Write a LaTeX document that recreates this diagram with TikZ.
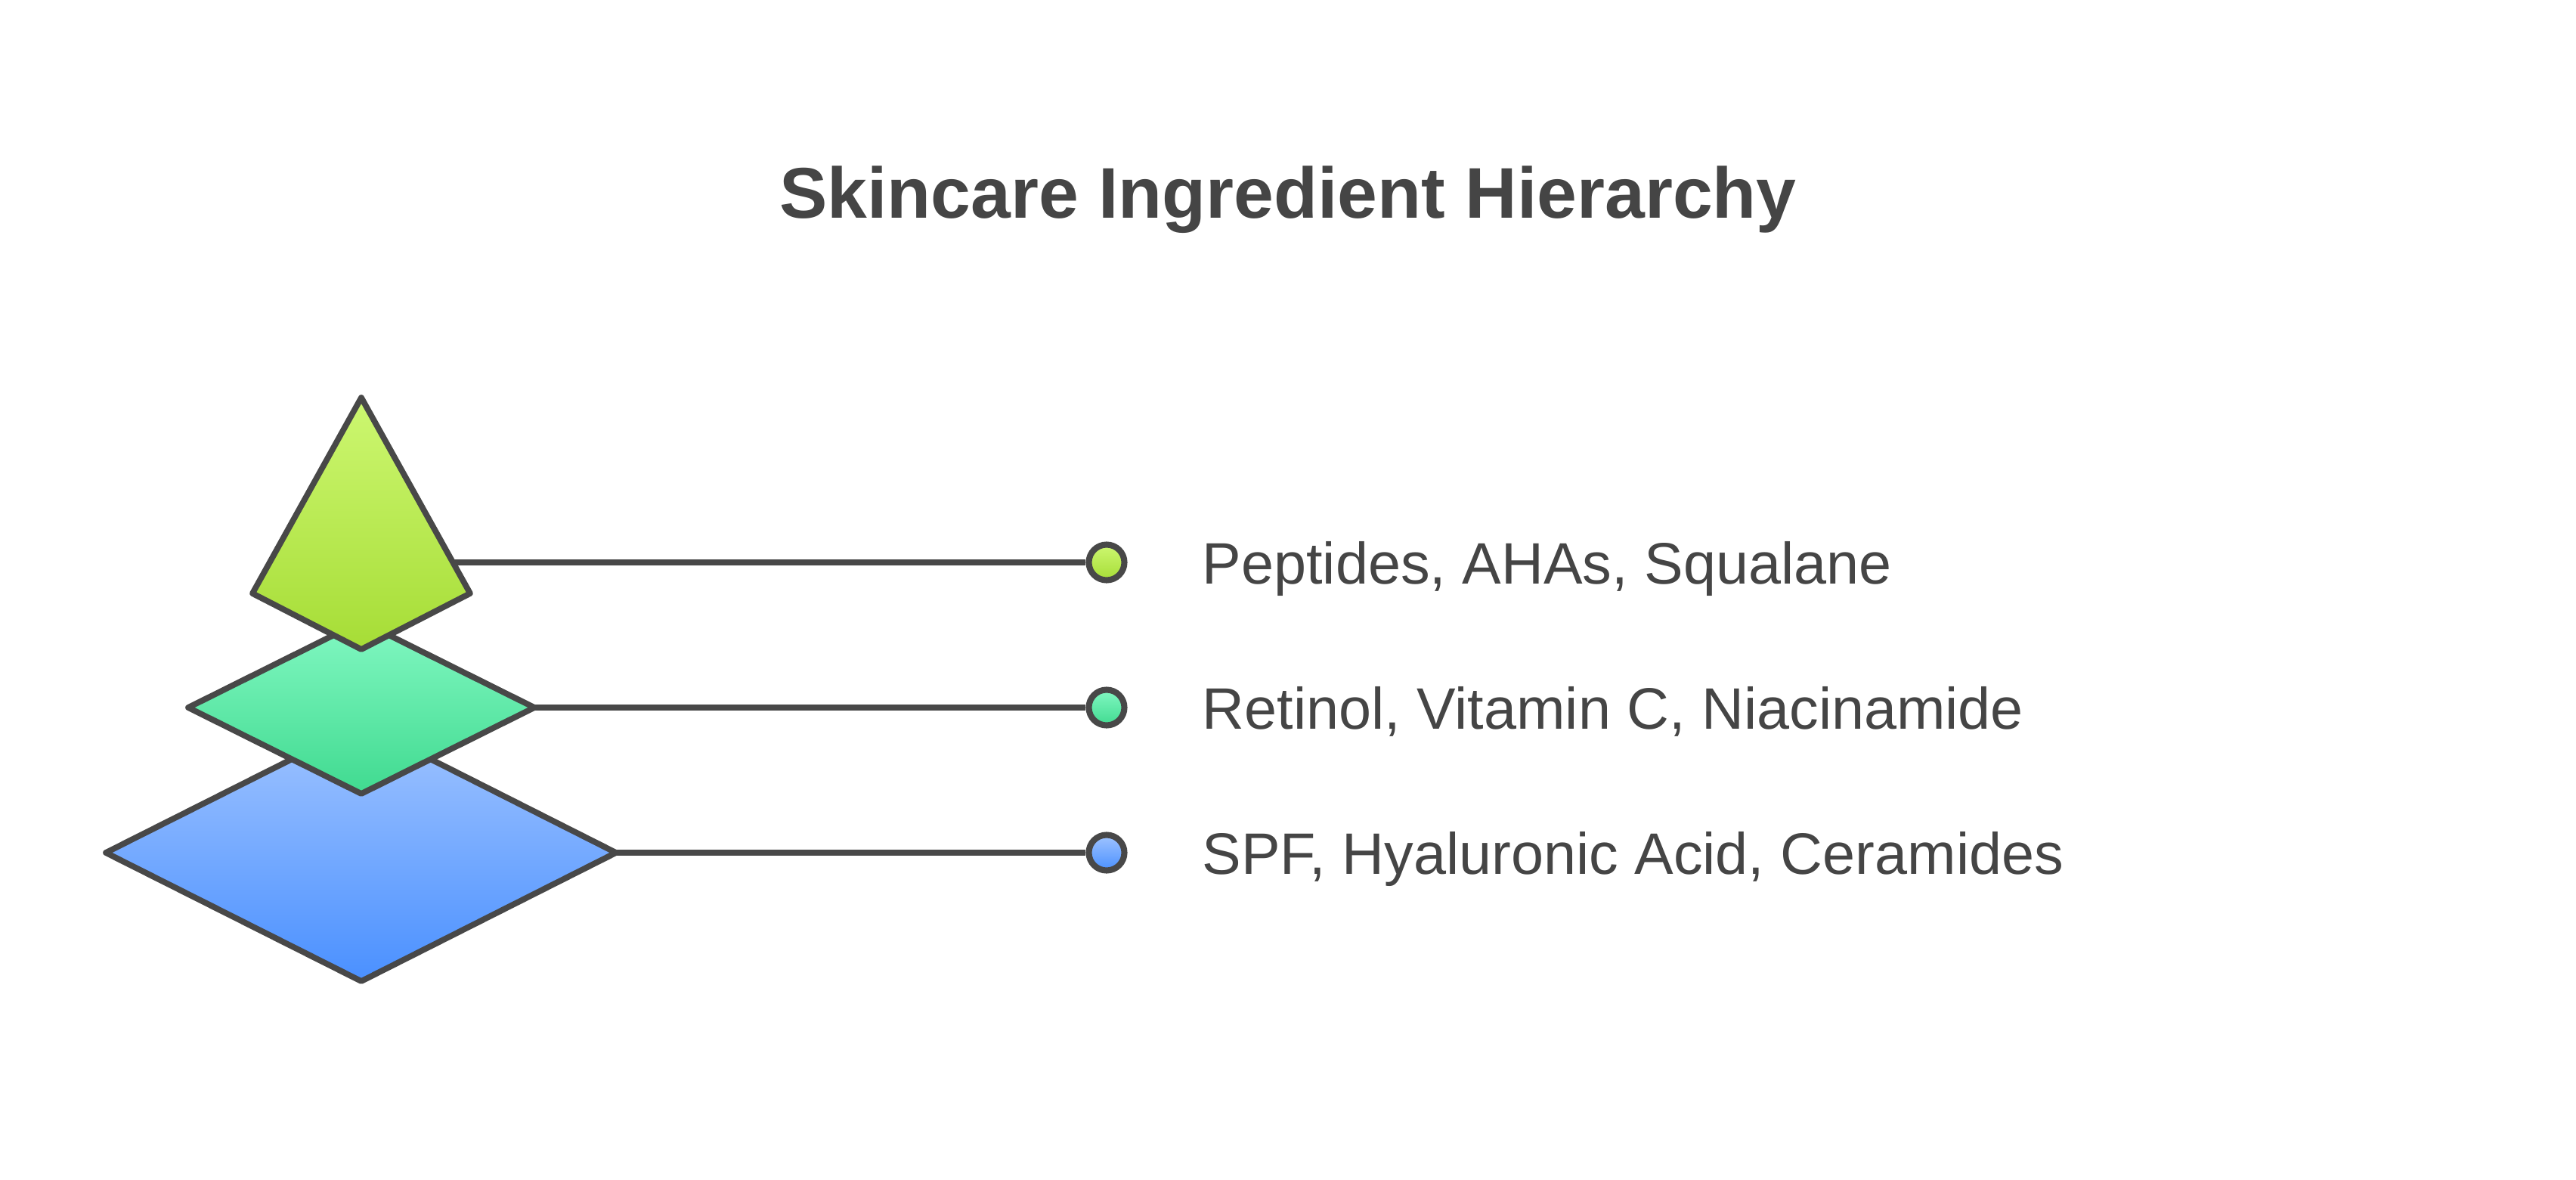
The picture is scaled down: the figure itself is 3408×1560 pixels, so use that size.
\documentclass[tikz,border=0pt]{standalone}
\usepackage{fontspec}
\setmainfont{Liberation Sans}
\usetikzlibrary{positioning}

\definecolor{edgegray}{HTML}{484848}
\definecolor{textgray}{HTML}{454545}
\definecolor{limetop}{HTML}{CDF771}
\definecolor{limebot}{HTML}{A6DD36}
\definecolor{minttop}{HTML}{82F8C2}
\definecolor{mintbot}{HTML}{40DA90}
\definecolor{bluetop}{HTML}{A0C4FF}
\definecolor{bluebot}{HTML}{4A90FF}

\tikzset{
  layer/.style={draw=edgegray, line width=2.2pt, line join=round},
  link/.style={draw=edgegray, line width=2.2pt},
  dot/.style={circle, draw=edgegray, line width=2.3pt, minimum size=0.47cm, inner sep=0pt},
  lbl/.style={anchor=base west, inner sep=0pt, text=textgray, font=\fontsize{22}{26}\selectfont},
}

\begin{document}
\begin{tikzpicture}[x=0.01cm, y=-0.01cm]
	\useasboundingbox (0,0) rectangle (3408,1560);
	\node[anchor=base, inner sep=0pt, text=textgray, font=\bfseries\fontsize{27}{32}\selectfont] (title) at (1704,288) {Skincare Ingredient Hierarchy};

	% layers, widest first
	\path[layer, top color=bluetop, bottom color=bluebot]
		(140,1128) -- (478,958) -- (815,1128) -- (478,1298) -- cycle;
	\path[layer, top color=minttop, bottom color=mintbot]
		(249,936) -- (478,822) -- (707,936) -- (478,1050) -- cycle;
	\path[layer, top color=limetop, bottom color=limebot]
		(334,785) -- (478,526) -- (622,785) -- (478,859) -- cycle;

	\coordinate (tipR) at (599,744);
	\coordinate (midR) at (707,936);
	\coordinate (baseR) at (815,1128);

	\node[dot, top color=limetop, bottom color=limebot] (dotTip) at (1464,744) {};
	\node[dot, top color=minttop, bottom color=mintbot] (dotMid) at (1464,936) {};
	\node[dot, top color=bluetop, bottom color=bluebot] (dotBase) at (1464,1128) {};

	\draw[link] (tipR) -- (dotTip);
	\draw[link] (midR) -- (dotMid);
	\draw[link] (baseR) -- (dotBase);

	\node[lbl] (lblTip) at (1590,772) {Peptides, AHAs, Squalane};
	\node[lbl] (lblMid) at (1590,964) {Retinol, Vitamin C, Niacinamide};
	\node[lbl] (lblBase) at (1590,1156) {SPF, Hyaluronic Acid, Ceramides};
\end{tikzpicture}
\end{document}
